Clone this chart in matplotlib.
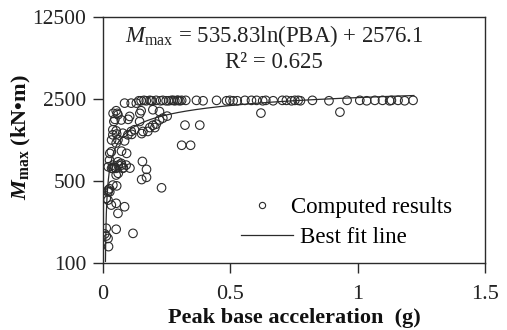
import numpy as np
import matplotlib
matplotlib.use("Agg")
import matplotlib.pyplot as plt
from matplotlib.lines import Line2D
from matplotlib.ticker import FixedLocator, FixedFormatter, NullLocator

plt.rcParams["font.family"] = ["Liberation Serif", "DejaVu Serif"]
plt.rcParams["mathtext.fontset"] = "custom"
plt.rcParams["mathtext.rm"] = "Liberation Serif"
plt.rcParams["mathtext.it"] = "Liberation Serif:italic"
plt.rcParams["mathtext.bf"] = "Liberation Serif:bold"
plt.rcParams["mathtext.bfit"] = "Liberation Serif:italic:bold"

# Peak base acceleration (g) and maximum moment (kN·m) of each computed case
pba = [
    # runs reaching the moment cap
    0.085, 0.111, 0.131, 0.141, 0.150, 0.161, 0.170, 0.184, 0.189, 0.193,
    0.209, 0.226, 0.235, 0.248, 0.258, 0.269, 0.276, 0.282, 0.291, 0.295,
    0.302, 0.309, 0.325, 0.367, 0.393, 0.446, 0.485, 0.498, 0.511, 0.527,
    0.557, 0.583, 0.603, 0.627, 0.639, 0.668, 0.704, 0.720, 0.740, 0.753,
    0.766, 0.775, 0.822, 0.887, 0.958, 1.008, 1.035, 1.067, 1.097, 1.125,
    1.132, 1.158, 1.184, 1.217,
    # remaining runs
    0.620, 0.930,
    0.040, 0.056, 0.145, 0.252, 0.047, 0.099, 0.322, 0.380, 0.184, 0.204,
    0.054, 0.152, 0.113, 0.034, 0.309, 0.344, 0.073, 0.093, 0.027, 0.155,
    0.021, 0.034, 0.047, 0.060, 0.073, 0.080, 0.106, 0.171, 0.060, 0.152,
    0.171, 0.054, 0.230, 0.021, 0.027,
    0.150, 0.196, 0.222, 0.052, 0.059, 0.105, 0.222, 0.235, 0.043, 0.072,
    0.144, 0.196, 0.209, 0.039, 0.052, 0.039, 0.111, 0.124, 0.078, 0.098,
    0.085, 0.059, 0.052, 0.157, 0.176,
    0.033, 0.026, 0.039, 0.059, 0.072, 0.039, 0.052, 0.078, 0.091, 0.052,
    0.039, 0.026, 0.020, 0.013, 0.052, 0.033,
    0.020, 0.085, 0.059, 0.013, 0.052, 0.007, 0.013, 0.020, 0.118, 0.022,
]
m_max = [
    2310, 2310, 2310, 2420, 2420, 2440, 2420, 2440, 2420, 2420,
    2440, 2420, 2440, 2420, 2420, 2440, 2440, 2420, 2440, 2440,
    2420, 2440, 2440, 2440, 2420, 2440, 2420, 2440, 2420, 2420,
    2440, 2440, 2440, 2420, 2440, 2420, 2440, 2440, 2420, 2440,
    2440, 2420, 2440, 2420, 2440, 2440, 2420, 2440, 2440, 2420,
    2440, 2440, 2420, 2440,
    1900, 1936,
    1890, 1890, 1890, 1790, 1680, 1680, 1500, 1500, 1430, 1430,
    1260, 1270, 1250, 1120, 1010, 1010, 900, 861, 861, 735,
    662, 642, 650, 684, 684, 650, 645, 629, 582, 515,
    538, 455, 438, 419, 405,
    1990, 2030, 1960, 1990, 1840, 1780, 1660, 1720, 1610, 1660,
    1610, 1495, 1530, 1370, 1340, 1240, 1325, 1370, 1280, 1240,
    1100, 1125, 1055, 1325, 1325,
    889, 755, 684, 730, 708, 642, 642, 642, 684, 563,
    462, 430, 405, 356, 323, 312,
    344, 302, 265, 198, 194, 177, 170, 162, 179, 138,
]

# logarithmic regression: M_max = a ln(PBA) + b
fit_a = 535.83
fit_b = 2576.1
fit_r2 = 0.625
fit_range = (0.0099, 1.22)

x_ticks = [0, 0.5, 1, 1.5]
x_tick_labels = ["0", "0.5", "1", "1.5"]
y_ticks = [100, 500, 2500, 12500]
y_tick_labels = ["100", "500", "2500", "12500"]

ink = "#2b2b2b"
fs = 16.5

fig = plt.figure(figsize=(5.07, 3.30), dpi=100)
ax = fig.add_axes([0.203, 0.203, 0.754, 0.745])

ax.scatter(pba, m_max, s=38, facecolors="none", edgecolors=ink,
           linewidths=0.8, zorder=3)

xf = np.geomspace(fit_range[0], fit_range[1], 400)
ax.plot(xf, fit_a * np.log(xf) + fit_b, color=ink, lw=0.9, zorder=4)

ax.set_yscale("log")
ax.set_xlim(0, 1.5)
ax.set_ylim(100, 12500)
ax.xaxis.set_major_locator(FixedLocator(x_ticks))
ax.xaxis.set_major_formatter(FixedFormatter(x_tick_labels))
ax.yaxis.set_major_locator(FixedLocator(y_ticks))
ax.yaxis.set_major_formatter(FixedFormatter(y_tick_labels))
ax.yaxis.set_minor_locator(NullLocator())
ax.tick_params(axis="both", which="major", direction="out", length=7,
               width=1.0, color=ink, labelsize=15.5, labelcolor="#222222")
ax.tick_params(axis="x", pad=9, labelsize=16)
ax.tick_params(axis="y", pad=5)
for sp in ax.spines.values():
    sp.set_linewidth(1.0)
    sp.set_color(ink)

ax.set_xlabel("Peak base acceleration  (g)", fontsize=16, fontweight="bold",
              color="#111111", labelpad=3)
ax.set_ylabel(r"$\mathbfit{M}_{\mathbf{max}}$ (kN•m)", fontsize=16,
              fontweight="bold", color="#111111")
ax.yaxis.set_label_coords(-0.183, 0.51)

ax.text(0.448, 0.925,
        r"$M_{\mathrm{max}}$ = %.2fln(PBA) + %.1f" % (fit_a, fit_b),
        transform=ax.transAxes, ha="center", va="center", fontsize=fs,
        color="#222222")
ax.text(0.448, 0.815, "R² = %.3f" % fit_r2, transform=ax.transAxes,
        ha="center", va="center", fontsize=fs, color="#222222")

h_pts = Line2D([], [], ls="none", marker="o", ms=4.5, mfc="none",
               mec=ink, mew=0.8)
h_fit = Line2D([], [], color=ink, lw=0.9)
leg1 = ax.legend([h_pts], ["Computed results"], loc="center left",
                 bbox_to_anchor=(0.368, 0.225), frameon=False, fontsize=fs,
                 handlelength=1.6, handletextpad=0.45, borderpad=0,
                 borderaxespad=0)
ax.add_artist(leg1)
ax.legend([h_fit], ["Best fit line"], loc="center left",
          bbox_to_anchor=(0.361, 0.103), frameon=False, fontsize=fs,
          handlelength=2.27, handletextpad=0.3, borderpad=0, borderaxespad=0)

fig.savefig("out.png", dpi=100)
